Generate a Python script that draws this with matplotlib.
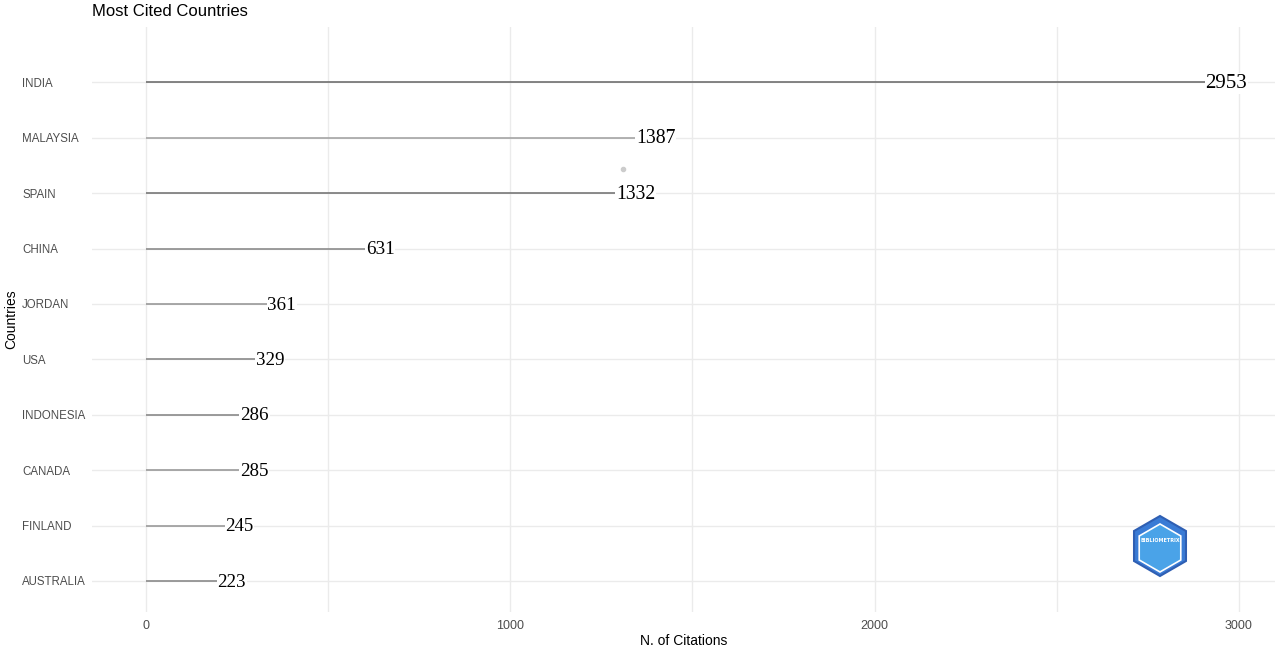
import matplotlib
matplotlib.use("Agg")
import matplotlib.pyplot as plt
from matplotlib.patches import RegularPolygon

countries = ["INDIA", "MALAYSIA", "SPAIN", "CHINA", "JORDAN", "USA",
             "INDONESIA", "CANADA", "FINLAND", "AUSTRALIA"]
citations = [2953, 1387, 1332, 631, 361, 329, 286, 285, 245, 223]
line_colors = ["#6f6f6f", "#a5a5a5", "#777777", "#8c8c8c", "#999999",
               "#8a8a8a", "#8a8a8a", "#9a9a9a", "#9a9a9a", "#8a8a8a"]
xticks = [0, 1000, 2000, 3000]
minor_xticks = [500, 1500, 2500]

fig = plt.figure(figsize=(12.8, 6.53), dpi=100)
ax = fig.add_axes([0.0719, 0.0628, 0.9241, 0.8959])

n = len(countries)
ypos = list(range(n, 0, -1))

ax.set_xlim(-148, 3099)
ax.set_ylim(0.44, n + 1.0)

for x in xticks + minor_xticks:
    ax.axvline(x, color="#ebebeb", lw=1.0, zorder=0)
for y in ypos:
    ax.axhline(y, color="#ebebeb", lw=1.0, zorder=0)

vmax = max(citations)
for y, v, c in zip(ypos, citations, line_colors):
    ax.hlines(y, 0, v, color=c, lw=1.2, zorder=2)
    fs = 13.5 + 1.5 * (v / vmax)
    ax.text(v + 12, y - 0.02, str(v), ha="center", va="center", fontsize=fs,
            family="Liberation Serif", color="black", zorder=3,
            bbox=dict(facecolor="white", edgecolor="none", pad=0.5))

# faint stray point
ax.plot([1309], [8.44], marker="o", ms=3, color="#cccccc", zorder=1)

for s in ax.spines.values():
    s.set_visible(False)

ax.set_xticks(xticks)
ax.set_xticklabels([str(t) for t in xticks], fontsize=9, color="#4d4d4d",
                   family="Liberation Sans")
ax.set_yticks(ypos)
ax.set_yticklabels(countries, fontsize=8.3, color="#4d4d4d", family="Liberation Sans")
for lbl in ax.get_yticklabels():
    lbl.set_horizontalalignment("left")
ax.tick_params(axis="y", length=0, pad=50.4)
ax.tick_params(axis="x", length=0, pad=6)

ax.set_xlabel("N. of Citations", fontsize=10, family="Liberation Sans", labelpad=1.5)
ax.set_ylabel("Countries", fontsize=10, family="Liberation Sans", labelpad=2)
ax.yaxis.set_label_coords(-0.0625, 0.5)

fig.text(92 / 1280, 1 - 12 / 653, "Most Cited Countries", fontsize=12,
         family="Liberation Sans", ha="left", va="center")

# logo (simplified hexagon)
cx, cy = 1160 / 1280, 1 - 546 / 653
hex_outer = RegularPolygon((1160, 653 - 546), numVertices=6, radius=30,
                           orientation=0, facecolor="#3a7bd5", edgecolor="#2f5fb3",
                           lw=1.5, transform=None, zorder=5)
hex_inner = RegularPolygon((1160, 653 - 548), numVertices=6, radius=24,
                           orientation=0, facecolor="#4aa3e8", edgecolor="white",
                           lw=1.2, transform=None, zorder=6)
fig.patches.extend([hex_outer, hex_inner])
fig.text(cx, 1 - 541 / 653, "BIBLIOMETRIX", fontsize=3.5, color="white",
         ha="center", va="center", weight="bold", zorder=7)

fig.savefig("out.png", dpi=100)
